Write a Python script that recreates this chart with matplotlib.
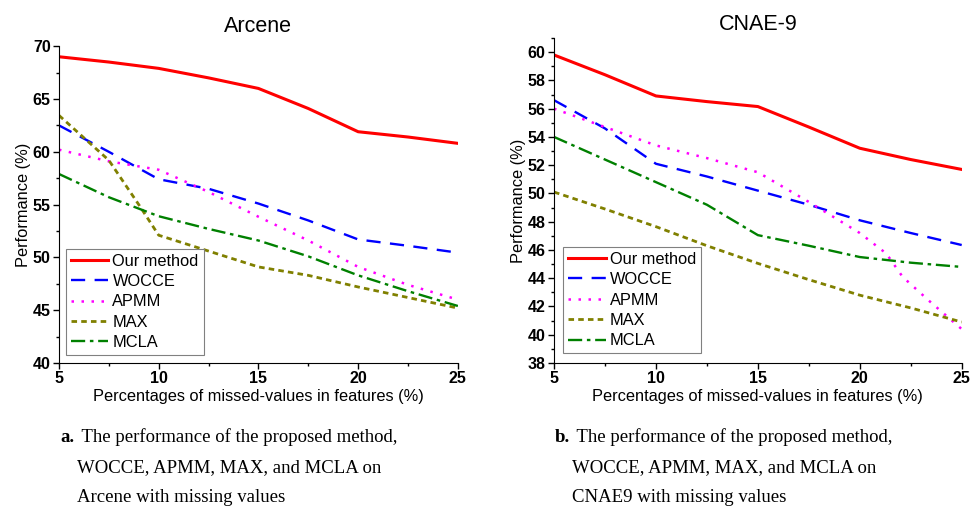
import numpy as np
import matplotlib.pyplot as plt
from matplotlib.ticker import MultipleLocator

plt.rcParams['font.family'] = ['Liberation Sans', 'DejaVu Sans']

methods = ['Our method', 'WOCCE', 'APMM', 'MAX', 'MCLA']
colors = ['#ff0000', '#0000ff', '#ff00ff', '#808000', '#008000']
styles = ['-', (0, (6, 4)), (0, (1, 3)), (0, (2, 1.5)), (0, (6, 2, 1.5, 2))]
widths = [2.2, 1.7, 1.8, 2.0, 1.7]

# Arcene
arc_x = {
    'Our method': [5, 7.5, 10, 12.5, 15, 17.5, 20, 22.5, 25],
    'WOCCE': [5, 7.5, 10, 12.5, 15, 17.5, 20, 22.5, 25],
    'APMM': [5, 7.5, 10, 12.5, 15, 17.5, 20, 22.5, 25],
    'MAX': [5, 7.5, 9, 10, 12.5, 15, 17.5, 20, 22.5, 25],
    'MCLA': [5, 7.5, 10, 12.5, 15, 17.5, 20, 22.5, 25],
}
arc_y = {
    'Our method': [69.0, 68.5, 67.9, 67.0, 66.0, 64.1, 61.9, 61.4, 60.8],
    'WOCCE': [62.5, 60.0, 57.4, 56.5, 55.1, 53.5, 51.7, 51.1, 50.45],
    'APMM': [60.2, 59.1, 58.3, 56.2, 53.85, 51.6, 49.1, 47.4, 46.0],
    'MAX': [63.45, 59.2, 55.0, 52.1, 50.6, 49.1, 48.3, 47.2, 46.2, 45.2],
    'MCLA': [57.9, 55.7, 53.9, 52.7, 51.6, 50.1, 48.3, 46.8, 45.4],
}

# CNAE-9
cnae_x = {
    'Our method': [5, 7.5, 10, 12.5, 15, 17.5, 20, 22.5, 25],
    'WOCCE': [5, 7.5, 10, 12.5, 15, 17.5, 20, 22.5, 25],
    'APMM': [5, 7.5, 10, 12.5, 15, 17.5, 20, 21.3, 22.1, 23.4, 25],
    'MAX': [5, 7.5, 10, 12.5, 15, 17.5, 20, 22.5, 25],
    'MCLA': [5, 7.5, 10, 12.5, 15, 17.5, 20, 22.5, 25],
}
cnae_y = {
    'Our method': [59.8, 58.4, 56.9, 56.5, 56.15, 54.7, 53.2, 52.4, 51.7],
    'WOCCE': [56.6, 54.6, 52.1, 51.2, 50.2, 49.2, 48.1, 47.2, 46.35],
    'APMM': [56.0, 54.7, 53.4, 52.5, 51.5, 49.4, 47.2, 45.75, 44.1, 42.4, 40.4],
    'MAX': [50.1, 48.9, 47.65, 46.3, 45.05, 43.9, 42.8, 41.9, 40.9],
    'MCLA': [54.0, 52.4, 50.8, 49.2, 47.05, 46.3, 45.5, 45.1, 44.8],
}

fig = plt.figure(figsize=(9.73, 5.11), dpi=100)
ax1 = fig.add_axes([0.0606, 0.2896, 0.410, 0.620])
ax2 = fig.add_axes([0.5694, 0.2896, 0.419, 0.636])

def draw(ax, xs, ys, title, ylim, major, minor, legbox, tpad):
    for m, c, s, w in zip(methods, colors, styles, widths):
        ax.plot(xs[m], ys[m], color=c, linestyle=s, linewidth=w, label=m)
    ax.set_xlim(5, 25)
    ax.set_ylim(*ylim)
    ax.xaxis.set_major_locator(MultipleLocator(5))
    ax.xaxis.set_minor_locator(MultipleLocator(2.5))
    ax.yaxis.set_major_locator(MultipleLocator(major))
    ax.yaxis.set_minor_locator(MultipleLocator(minor))
    ax.spines['top'].set_visible(False)
    ax.spines['right'].set_visible(False)
    ax.tick_params(direction='out', length=4, width=1, labelsize=11.5, pad=2)
    ax.tick_params(which='minor', direction='out', length=2.5, width=1)
    for lab in ax.get_xticklabels() + ax.get_yticklabels():
        lab.set_fontweight('bold')
    ax.set_title(title, fontsize=15.5, pad=tpad)
    ax.set_xlabel('Percentages of missed-values in features (%)', fontsize=11.8, labelpad=2)
    ax.set_ylabel('Performance (%)', fontsize=11.8, labelpad=1)
    leg = ax.legend(loc='lower left', bbox_to_anchor=legbox, fontsize=11.8,
                    fancybox=False, framealpha=1, edgecolor='#808080',
                    handlelength=2.3, handletextpad=0.25, labelspacing=0.33,
                    borderpad=0.3, borderaxespad=0)
    leg.get_frame().set_linewidth(0.8)

draw(ax1, arc_x, arc_y, 'Arcene', (40, 70), 5, 2.5, (0.017, 0.025), 10)
draw(ax2, cnae_x, cnae_y, 'CNAE-9', (38, 61), 2, 1, (0.022, 0.03), 6)

cap_a = ['The performance of the proposed method,',
         'WOCCE, APMM, MAX, and MCLA on',
         'Arcene with missing values']
cap_b = ['The performance of the proposed method,',
         'WOCCE, APMM, MAX, and MCLA on',
         'CNAE9 with missing values']

for x0, tag, lines in [(60, 'a.', cap_a), (555, 'b.', cap_b)]:
    for i, line in enumerate(lines):
        yy = 1 - (437 + 30.5 * i) / 511
        if i == 0:
            fig.text(x0 / 973, yy, tag, fontsize=13.5, fontweight='bold',
                     family='Liberation Serif', va='center', ha='left')
            fig.text((x0 + 17) / 973, yy, ' ' + line, fontsize=13.5,
                     family='Liberation Serif', va='center', ha='left')
        else:
            fig.text((x0 + 17) / 973, yy, line, fontsize=13.5,
                     family='Liberation Serif', va='center', ha='left')

fig.savefig('out.png', dpi=100)
